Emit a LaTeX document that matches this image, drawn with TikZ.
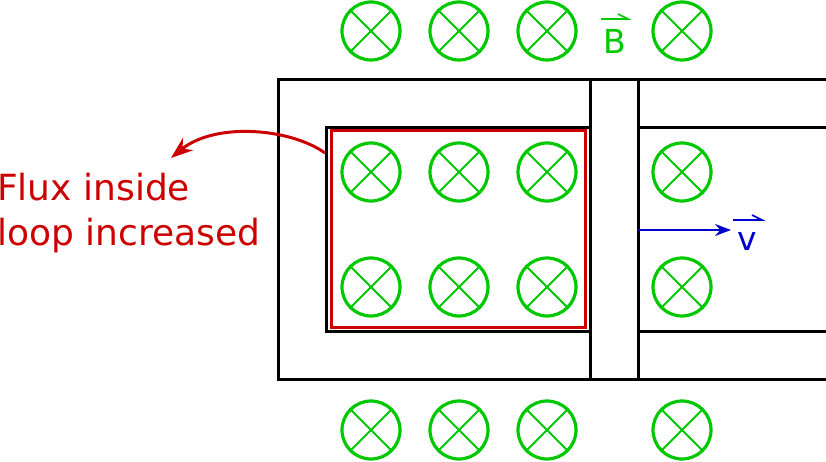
\documentclass[tikz,border=0pt]{standalone}
\usepackage{fontspec}
\setmainfont{DejaVu Sans}
\usetikzlibrary{arrows.meta}
\definecolor{fgreen}{RGB}{0,200,0}
\definecolor{fred}{RGB}{204,0,0}
\definecolor{fblue}{RGB}{0,0,204}
\tikzset{
  bfield/.style={circle, draw=fgreen, line width=3.2pt, inner sep=0pt, minimum size=58pt,
    path picture={\draw[fgreen, line width=2pt] (path picture bounding box.north west) -- (path picture bounding box.south east)
      (path picture bounding box.north east) -- (path picture bounding box.south west);}},
  rail/.style={black, line width=3pt},
  loopline/.style={fred, line width=3pt},
  veclabel/.style={font=\fontsize{33}{40}\selectfont, inner sep=0pt, anchor=base},
  vecarrow/.style={line width=1.6pt},
}
\begin{document}
\begin{tikzpicture}[x=1pt,y=-1pt]
\useasboundingbox (0,0) rectangle (826,462);
% rails
\draw[rail] (826,80) -- (278,80) -- (278,379) -- (826,379);
\draw[rail] (590,128) -- (326,128) -- (326,331) -- (590,331);
\draw[rail] (638,128) -- (826,128);
\draw[rail] (638,331) -- (826,331);
% bar
\draw[rail] (590,80) -- (590,379);
\draw[rail] (638,80) -- (638,379);
% loop
\draw[loopline] (331,131) rectangle (585,327);
% field
\foreach \y [count=\r] in {31,172,287,430} {
  \foreach \x [count=\c] in {371,459,547,682} {
    \node[bfield] (b\r\c) at (\x,\y) {};
  }
}
% B label
\node[veclabel, text=fgreen] (B) at (615,54) {B};
\draw[fgreen, vecarrow] ([xshift=-14pt,yshift=35pt]B.base) -- ++(27,0) -- ++(-10,-5);
% v label
\node[veclabel, text=fblue] (V) at (747,250) {v};
\coordinate (vstart) at (638,230);
\coordinate (vend) at (731,230);
\draw[fblue, line width=2pt, -{Stealth[length=16pt,width=12pt]}] (vstart) -- (vend);
\draw[fblue, vecarrow] ([xshift=-14pt,yshift=30pt]V.base) -- ++(29,0) -- ++(-10,-5);
% text
\node[text=fred, anchor=base west, inner sep=0pt, font=\fontsize{36}{44}\selectfont] (t1) at (-3,201) {Flux inside};
\node[text=fred, anchor=base west, inner sep=0pt, font=\fontsize{36}{44}\selectfont] (t2) at (-3,245) {loop increased};
\coordinate (astart) at (325,153);
\coordinate (aend) at (171,158);
\draw[fred, line width=3pt, -{Stealth[length=22pt,width=16pt]}] (astart) .. controls (290,128) and (215,122) .. (aend);
\end{tikzpicture}
\end{document}
